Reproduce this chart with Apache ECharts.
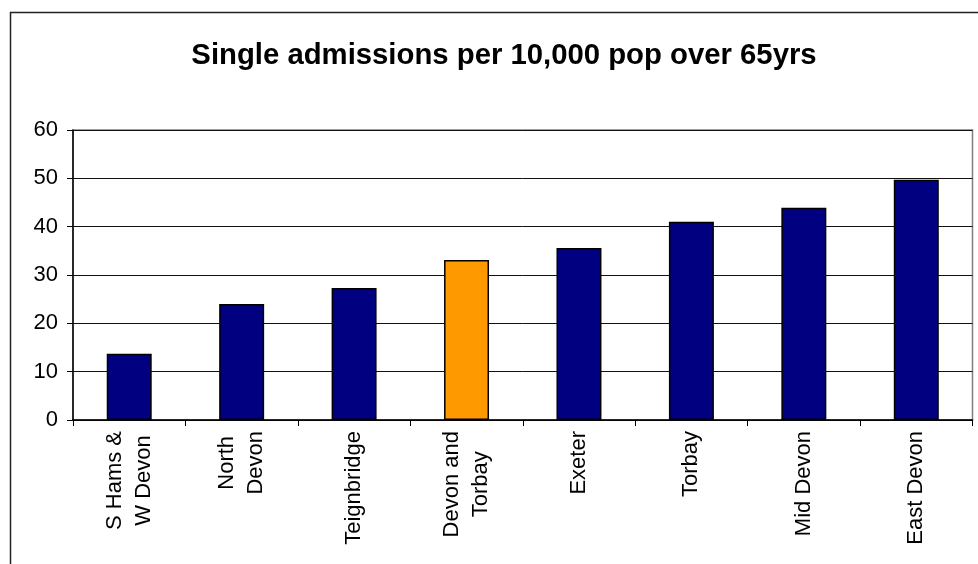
<!DOCTYPE html>
<html>
<head>
<meta charset="utf-8">
<title>Single admissions per 10,000 pop over 65yrs</title>
<script src="https://cdn.jsdelivr.net/npm/echarts@6/dist/echarts.min.js"></script>
<style>
  html, body { margin: 0; padding: 0; background: #ffffff; }
  #chart { width: 978px; height: 564px; }
</style>
</head>
<body>
<div id="chart"></div>
<script>
// Areas (multi-line names use \n) and single admissions per 10,000 population aged over 65
const categories = ['S Hams &\nW Devon', 'North\nDevon', 'Teignbridge', 'Devon and\nTorbay', 'Exeter', 'Torbay', 'Mid Devon', 'East Devon'];
const admissions = [13.7, 24.0, 27.3, 33.1, 35.6, 41.0, 43.9, 49.7];
const highlightCategory = 'Devon and\nTorbay';
const yTicks = [0, 10, 20, 30, 40, 50, 60];

const FONT = '"Liberation Sans", Arial, sans-serif';
const LABEL_SIZE = 22;
const NAVY = '#000080';
const ORANGE = '#FF9900';

const barData = admissions.map((v, i) => ({
  value: v,
  itemStyle: { color: categories[i] === highlightCategory ? ORANGE : NAVY }
}));

// Each wrapped category label keeps its lines centred on one another:
// shorter lines get equal padding on both sides up to the longest line.
const measureCtx = document.createElement('canvas').getContext('2d');
measureCtx.font = LABEL_SIZE + 'px ' + FONT;
const labelRich = {};
categories.forEach((cat, i) => {
  const lines = cat.split('\n');
  const widths = lines.map(s => measureCtx.measureText(s).width);
  const maxW = Math.max.apply(null, widths);
  lines.forEach((s, j) => {
    const pad = (maxW - widths[j]) / 2;
    labelRich['l' + i + '_' + j] = {
      fontFamily: FONT, fontSize: LABEL_SIZE, lineHeight: 29, color: '#000',
      padding: [0, pad, 0, pad]
    };
  });
});

const chart = echarts.init(document.getElementById('chart'), null, { renderer: 'canvas' });

chart.setOption({
  animation: false,
  backgroundColor: '#ffffff',
  title: {
    text: 'Single admissions per 10,000 pop over 65yrs',
    left: 499,
    top: 36,
    textAlign: 'center',
    textStyle: { fontFamily: FONT, fontSize: 29.3, fontWeight: 'bold', color: '#000' }
  },
  graphic: [{
    type: 'rect',
    shape: { x: 10.5, y: 12.5, width: 1000, height: 600 },
    style: { fill: 'none', stroke: '#222', lineWidth: 1.5 },
    silent: true,
    z: -1
  }],
  grid: {
    left: 73,
    right: 5.5,
    top: 130,
    bottom: 144,
    show: true,
    borderColor: '#808080',
    borderWidth: 1.5,
    backgroundColor: 'transparent'
  },
  xAxis: {
    type: 'category',
    data: categories,
    boundaryGap: true,
    axisLine: { show: true, lineStyle: { color: '#000', width: 1.5 } },
    axisTick: { show: true, alignWithLabel: false, length: 6, lineStyle: { color: '#000', width: 1 } },
    axisLabel: {
      interval: 0,
      rotate: 90,
      margin: 11,
      color: '#000',
      fontFamily: FONT,
      fontSize: LABEL_SIZE,
      lineHeight: 29,
      formatter: (v, idx) => v.split('\n').map((s, j) => '{l' + idx + '_' + j + '|' + s + '}').join('\n'),
      rich: labelRich
    },
    splitLine: { show: false }
  },
  yAxis: {
    type: 'value',
    min: yTicks[0],
    max: yTicks[yTicks.length - 1],
    interval: yTicks[1] - yTicks[0],
    axisLine: { show: true, lineStyle: { color: '#000', width: 1.5 } },
    axisTick: { show: true, length: 6, lineStyle: { color: '#000', width: 1 } },
    axisLabel: {
      margin: 15,
      color: '#000',
      fontFamily: FONT,
      fontSize: LABEL_SIZE
    },
    splitLine: { show: true, lineStyle: { color: '#111', width: 1 } }
  },
  series: [{
    type: 'bar',
    data: barData,
    barWidth: '40%',
    itemStyle: { borderColor: '#000', borderWidth: 1.5 }
  }]
});
</script>
</body>
</html>
